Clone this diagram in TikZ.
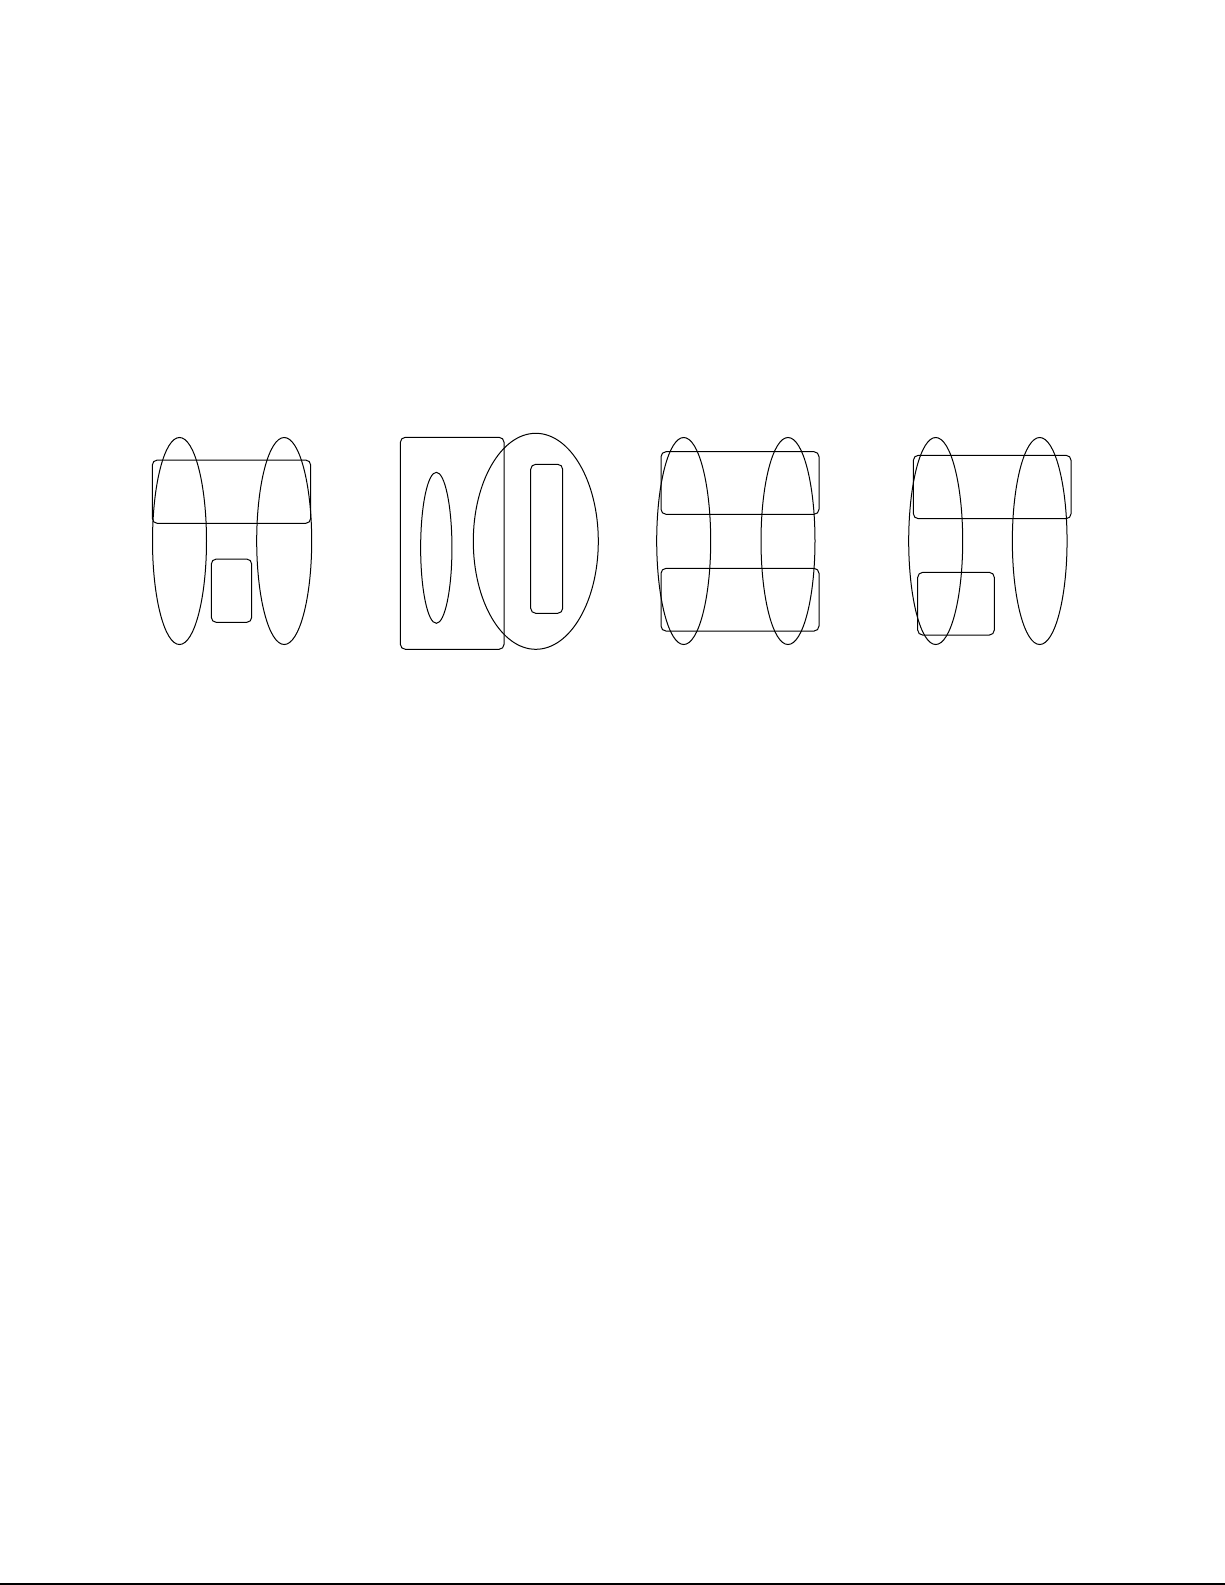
\documentclass[tikz,border=0pt]{standalone}
\usetikzlibrary{shapes.geometric}
\begin{document}
\begin{tikzpicture}[x=1pt,y=-1pt,
  ell/.style={draw=black,ellipse,inner sep=0pt,outer sep=0pt,line width=1pt},
  rbox/.style={draw=black,rectangle,rounded corners=5pt,inner sep=0pt,outer sep=0pt,line width=1pt}]
\useasboundingbox (0,0) rectangle (1225,1585);
% group 1
\node[ell,minimum width=54pt,minimum height=207pt] (e1a) at (179.5,541) {};
\node[ell,minimum width=55pt,minimum height=207pt] (e1b) at (284.2,541) {};
\node[rbox,minimum width=158.4pt,minimum height=63.3pt] (r1a) at (231.5,491.7) {};
\node[rbox,minimum width=40.4pt,minimum height=63.3pt] (r1b) at (231.5,590.7) {};
% group 2
\node[rbox,minimum width=103.7pt,minimum height=212pt] (r2a) at (452.2,543.3) {};
\node[ell,minimum width=31.3pt,minimum height=151pt] (e2a) at (436.3,547.8) {};
\node[ell,minimum width=125pt,minimum height=216pt] (e2b) at (535.8,541.3) {};
\node[rbox,minimum width=32pt,minimum height=149pt] (r2b) at (546.7,538.8) {};
% group 3
\node[ell,minimum width=54pt,minimum height=207pt] (e3a) at (683.7,541) {};
\node[ell,minimum width=54pt,minimum height=207pt] (e3b) at (788,541) {};
\node[rbox,minimum width=158pt,minimum height=62.6pt] (r3a) at (740,483) {};
\node[rbox,minimum width=158pt,minimum height=62.7pt] (r3b) at (740,599.7) {};
% group 4
\node[ell,minimum width=54pt,minimum height=207pt] (e4a) at (935.7,541) {};
\node[ell,minimum width=54.7pt,minimum height=207pt] (e4b) at (1039.7,541) {};
\node[rbox,minimum width=157.7pt,minimum height=63.4pt] (r4a) at (992.2,487) {};
\node[rbox,minimum width=76.6pt,minimum height=62.7pt] (r4b) at (956,603.7) {};
% bottom rule
\coordinate (bl) at (0,1583.8);
\coordinate (br) at (1225,1583.8);
\draw[line width=2pt] (bl) -- (br);
\end{tikzpicture}
\end{document}
